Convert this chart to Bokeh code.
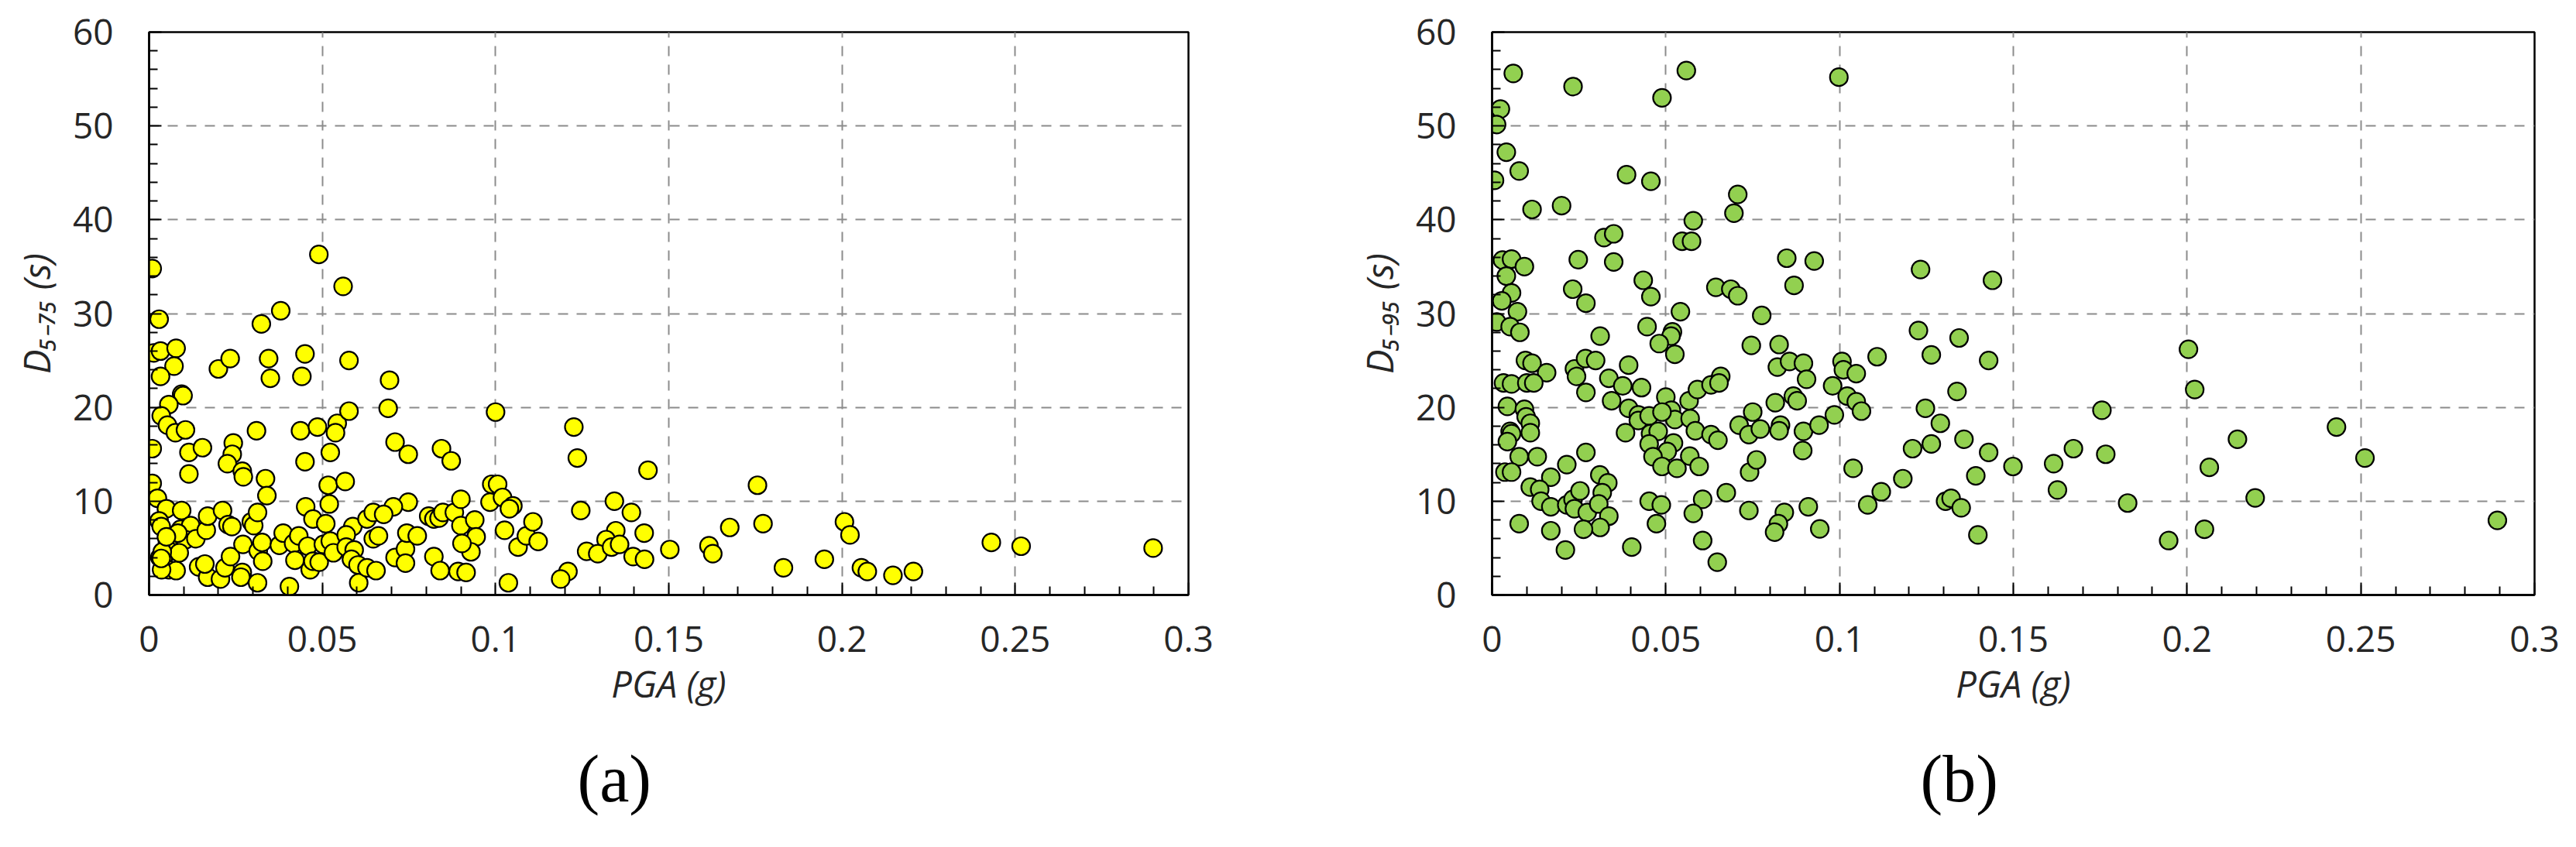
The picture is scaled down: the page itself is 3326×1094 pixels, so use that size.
from bokeh.plotting import figure
from bokeh.layouts import row
from bokeh.models import Range1d, FixedTicker, Title
from bokeh.embed import file_html
from bokeh.resources import INLINE

# ---------------- data ----------------
pga_a = [0.0009, 0.0490, 0.0560, 0.0029, 0.0380, 0.0324, 0.0013, 0.0033, 0.0078, 0.0072,
         0.0033, 0.0200, 0.0234, 0.0345, 0.0350, 0.0450, 0.0441, 0.0577, 0.0694, 0.0690,
         0.1000, 0.0094, 0.0098, 0.0057, 0.0035, 0.0053, 0.0076, 0.0105, 0.0009, 0.0115,
         0.0154, 0.0115, 0.0009, 0.0310, 0.0437, 0.0486, 0.0543, 0.0538, 0.0577, 0.0243,
         0.0240, 0.0226, 0.0269, 0.0272, 0.0336, 0.0340, 0.0523, 0.0450, 0.0710, 0.0748,
         0.0844, 0.0872, 0.0517, 0.0566, 0.0520, 0.0452, 0.0989, 0.1006, 0.0984, 0.1020,
         0.1050, 0.1040, 0.0748, 0.0705, 0.0024, 0.0050, 0.0094, 0.0029, 0.0035, 0.0091,
         0.0120, 0.0105, 0.0135, 0.0165, 0.0169, 0.0212, 0.0228, 0.0239, 0.0053, 0.0057,
         0.0042, 0.0057, 0.0078, 0.0087, 0.0143, 0.0169, 0.0161, 0.0206, 0.0219, 0.0235,
         0.0269, 0.0265, 0.0271, 0.0313, 0.0405, 0.0295, 0.0302, 0.0313, 0.0315, 0.0328,
         0.0326, 0.0376, 0.0387, 0.0417, 0.0432, 0.0421, 0.0458, 0.0465, 0.0473, 0.0491,
         0.0503, 0.0473, 0.0510, 0.0523, 0.0532, 0.0588, 0.0569, 0.0569, 0.0592, 0.0584,
         0.0603, 0.0605, 0.0629, 0.0655, 0.0629, 0.0647, 0.0677, 0.0647, 0.0662, 0.0710,
         0.0740, 0.0740, 0.0744, 0.0774, 0.0807, 0.0822, 0.0837, 0.0848, 0.0881, 0.0900,
         0.0900, 0.0940, 0.0944, 0.0929, 0.0903, 0.0822, 0.0840, 0.0892, 0.0915, 0.1026,
         0.1037, 0.1065, 0.1089, 0.1108, 0.1123, 0.0031, 0.0038, 0.0036, 0.0083, 0.0050,
         0.0035, 0.1226, 0.1236, 0.1440, 0.1246, 0.1343, 0.1392, 0.1347, 0.1429, 0.1319,
         0.1263, 0.1295, 0.1335, 0.1358, 0.1397, 0.1430, 0.1209, 0.1188, 0.1503, 0.1616,
         0.1627, 0.1676, 0.1756, 0.1772, 0.1831, 0.1949, 0.2007, 0.2023, 0.2056, 0.2073,
         0.2147, 0.2206, 0.2431, 0.2517, 0.2898]
d5_75 = [34.8, 36.3, 32.9, 29.4, 30.3, 28.9, 25.8, 26.0, 26.3, 24.4,
         23.3, 24.1, 25.2, 25.2, 23.1, 25.7, 23.3, 25.0, 22.9, 19.9,
         19.5, 21.4, 21.25, 20.3, 19.1, 18.1, 17.3, 17.6, 15.6, 15.2,
         15.7, 12.9, 11.9, 17.5, 17.5, 17.9, 18.3, 17.3, 19.6, 16.2,
         15.0, 14.0, 13.2, 12.6, 12.4, 10.6, 15.2, 14.2, 16.3, 15.0,
         15.6, 14.3, 11.7, 12.1, 9.7, 9.4, 11.8, 11.8, 9.9, 10.4,
         9.5, 9.2, 9.9, 9.4, 10.3, 9.2, 9.0, 7.9, 7.3, 7.0,
         7.4, 5.9, 6.0, 6.9, 8.4, 9.0, 7.5, 7.3, 5.6, 4.7,
         4.1, 2.7, 2.6, 4.5, 3.0, 1.9, 3.3, 1.7, 2.9, 4.1,
         2.4, 1.9, 5.4, 1.3, 0.9, 7.8, 7.4, 8.8, 4.7, 3.6,
         5.6, 5.3, 6.6, 5.5, 6.3, 3.7, 5.2, 2.7, 3.6, 3.5,
         5.4, 8.1, 7.6, 5.75, 4.5, 7.3, 6.4, 5.1, 4.8, 3.8,
         3.2, 1.3, 2.9, 2.6, 8.1, 8.8, 8.6, 6.0, 6.3, 4.0,
         4.9, 3.4, 6.6, 6.3, 8.4, 8.1, 8.2, 8.8, 8.8, 10.2,
         7.4, 8.0, 6.2, 4.6, 5.5, 4.1, 2.6, 2.5, 2.4, 6.9,
         1.3, 5.1, 6.3, 7.8, 5.7, 4.0, 4.6, 2.7, 6.6, 6.2,
         3.9, 17.9, 14.6, 13.3, 9.0, 10.0, 8.8, 6.85, 6.6, 5.9,
         4.65, 4.4, 5.1, 5.4, 4.1, 3.8, 2.5, 1.7, 4.85, 5.25,
         4.4, 7.2, 11.7, 7.6, 2.9, 3.8, 7.8, 6.4, 2.9, 2.5,
         2.1, 2.5, 5.6, 5.2, 5.0]

pga_b = [0.0061, 0.0233, 0.0489, 0.0559, 0.0998, 0.0024, 0.0013, 0.0041, 0.0078, 0.0007,
         0.0387, 0.0457, 0.0707, 0.0696, 0.0115, 0.0200, 0.0579, 0.0322, 0.0350, 0.0547,
         0.0574, 0.0030, 0.0056, 0.0093, 0.0248, 0.0350, 0.0041, 0.0056, 0.0028, 0.0073,
         0.0013, 0.0052, 0.0080, 0.0232, 0.0270, 0.0435, 0.0457, 0.0848, 0.0927, 0.0869,
         0.0644, 0.0687, 0.0707, 0.0542, 0.0776, 0.0446, 0.0311, 0.0519, 0.0515, 0.0481,
         0.0526, 0.0746, 0.0826, 0.0096, 0.0115, 0.0157, 0.0033, 0.0056, 0.0100, 0.0120,
         0.0237, 0.0269, 0.0298, 0.0243, 0.0270, 0.0393, 0.0336, 0.0376, 0.0430, 0.0344,
         0.0393, 0.0421, 0.0421, 0.0452, 0.0500, 0.0516, 0.0526, 0.0570, 0.0567, 0.0591,
         0.0630, 0.0658, 0.0653, 0.0489, 0.0384, 0.0456, 0.0478, 0.0452, 0.0522, 0.0504,
         0.0463, 0.0489, 0.0532, 0.0569, 0.0596, 0.0585, 0.0630, 0.0650, 0.0044, 0.0093,
         0.0098, 0.0110, 0.0110, 0.0052, 0.0056, 0.0044, 0.0078, 0.0130, 0.0037, 0.0056,
         0.0270, 0.0215, 0.0169, 0.0110, 0.0137, 0.0141, 0.0169, 0.0215, 0.0233, 0.0237,
         0.0253, 0.0274, 0.0310, 0.0333, 0.0317, 0.0307, 0.0336, 0.0311, 0.0263, 0.0169,
         0.0078, 0.0211, 0.0402, 0.0452, 0.0487, 0.0473, 0.0606, 0.0579, 0.0606, 0.0648,
         0.0674, 0.0741, 0.0761, 0.0711, 0.0750, 0.0739, 0.0772, 0.0815, 0.0821, 0.0856,
         0.0896, 0.0905, 0.0867, 0.0878, 0.0830, 0.0826, 0.0896, 0.0894, 0.0941, 0.0985,
         0.0980, 0.1007, 0.1011, 0.1048, 0.1022, 0.1048, 0.1063, 0.1039, 0.0739, 0.0841,
         0.0824, 0.0813, 0.0910, 0.0943, 0.1081, 0.1233, 0.1440, 0.1227, 0.1344, 0.1108,
         0.1264, 0.1429, 0.1338, 0.1247, 0.1755, 0.2004, 0.2022, 0.1290, 0.1264, 0.1210,
         0.1358, 0.1429, 0.1182, 0.1120, 0.1392, 0.1499, 0.1616, 0.1673, 0.1766, 0.1627,
         0.1305, 0.1321, 0.1350, 0.1398, 0.1829, 0.1947, 0.2050, 0.2064, 0.2145, 0.2196,
         0.2430, 0.2512, 0.2893]
d5_95 = [55.6, 54.2, 53.0, 55.9, 55.2, 51.8, 50.15, 47.2, 45.2, 44.2,
         44.8, 44.1, 42.7, 40.7, 41.1, 41.5, 39.9, 38.1, 38.5, 37.7,
         37.7, 35.7, 35.8, 35.0, 35.75, 35.5, 34.0, 32.2, 31.35, 30.2,
         29.1, 28.6, 28.0, 32.6, 31.1, 33.55, 31.8, 35.9, 35.6, 33.0,
         32.8, 32.6, 31.9, 30.2, 29.8, 28.6, 27.6, 28.05, 27.6, 26.8,
         25.65, 26.6, 26.7, 25.0, 24.7, 23.7, 22.6, 22.5, 22.6, 22.6,
         24.1, 25.2, 25.0, 23.3, 21.6, 24.5, 23.1, 22.3, 22.1, 20.7,
         19.9, 19.2, 18.6, 19.1, 21.1, 19.7, 18.7, 18.8, 20.7, 21.9,
         22.4, 23.3, 22.6, 19.5, 17.3, 17.2, 17.45, 16.1, 16.2, 15.3,
         14.75, 13.7, 13.5, 14.8, 13.7, 17.5, 17.1, 16.5, 20.1, 19.8,
         19.0, 18.3, 17.3, 17.45, 17.2, 16.35, 14.75, 14.75, 13.1, 13.1,
         15.2, 13.9, 12.55, 11.5, 11.25, 10.0, 9.4, 9.6, 10.2, 9.2,
         11.1, 8.8, 12.8, 11.95, 10.9, 9.7, 8.4, 7.2, 7.0, 6.85,
         7.6, 4.8, 5.1, 10.0, 9.6, 7.6, 10.2, 8.7, 5.8, 3.5,
         10.9, 13.1, 14.4, 18.1, 19.5, 17.1, 17.7, 20.5, 24.3, 24.9,
         24.7, 23.0, 21.2, 20.7, 18.1, 17.5, 17.45, 15.4, 18.1, 19.2,
         22.3, 24.9, 24.0, 23.6, 21.2, 20.6, 19.6, 13.5, 9.0, 8.8,
         7.6, 6.7, 9.4, 7.05, 9.6, 34.7, 33.55, 28.2, 27.4, 25.4,
         25.6, 25.0, 21.7, 19.9, 19.7, 26.2, 21.9, 18.3, 16.1, 15.6,
         16.6, 15.2, 12.4, 11.0, 12.7, 13.7, 14.0, 15.6, 15.0, 11.2,
         10.0, 10.3, 9.3, 6.4, 9.8, 5.8, 7.0, 13.6, 16.6, 10.35,
         17.9, 14.6, 7.96]

x_ticks = [0, 0.05, 0.1, 0.15, 0.2, 0.25, 0.3]
x_tick_labels = ["0", "0.05", "0.1", "0.15", "0.2", "0.25", "0.3"]
y_ticks = [0, 10, 20, 30, 40, 50, 60]
y_tick_labels = ["0", "10", "20", "30", "40", "50", "60"]
y_titles = ["D\u2085\u208b\u2087\u2085 (s)", "D\u2085\u208b\u2089\u2085 (s)"]
x_title = "PGA (g)"
captions = ["(a)", "(b)"]

# ---------------- styling ----------------
H = 1094
SANS = "Open Sans"
TXT = "#262626"


def make_panel(xs, ys, fill, ytitle, caption, width, b_right):
    p = figure(width=width, height=H,
               x_range=Range1d(0, 0.3), y_range=Range1d(0, 60),
               output_backend="svg", toolbar_location=None,
               min_border_left=188, min_border_right=b_right,
               min_border_top=41, min_border_bottom=H - 768)
    p.background_fill_color = "white"
    p.border_fill_color = "white"
    p.outline_line_color = "black"
    p.outline_line_width = 2.5

    minor_x = [i * 0.01 for i in range(31) if i % 5]
    minor_y = [i * 2 for i in range(31) if i % 5]
    p.xaxis.ticker = FixedTicker(ticks=x_ticks, minor_ticks=minor_x)
    p.yaxis.ticker = FixedTicker(ticks=y_ticks, minor_ticks=minor_y)
    p.xaxis.major_label_overrides = dict(zip(x_ticks, x_tick_labels))
    p.yaxis.major_label_overrides = dict(zip(y_ticks, y_tick_labels))

    for ax in (p.xaxis, p.yaxis):
        ax.axis_line_color = "black"
        ax.axis_line_width = 2.5
        ax.major_tick_in = 16
        ax.major_tick_out = 0
        ax.minor_tick_in = 11
        ax.minor_tick_out = 0
        ax.major_tick_line_color = "black"
        ax.minor_tick_line_color = "black"
        ax.major_tick_line_width = 2
        ax.minor_tick_line_width = 2
        ax.major_label_text_font = SANS
        ax.major_label_text_font_size = "46px"
        ax.major_label_text_color = TXT
    p.xaxis.major_label_standoff = 40
    p.yaxis.major_label_standoff = 46

    p.grid.grid_line_color = "#8c8c8c"
    p.grid.grid_line_width = 2
    p.grid.grid_line_dash = "13 11"

    p.scatter(xs, ys, size=23, marker="circle", fill_color=fill,
              line_color="black", line_width=2.2)

    # axis titles and panel caption as side-panel titles
    p.add_layout(Title(text=x_title, align="center", text_font=SANS,
                       text_font_size="47px", text_font_style="italic",
                       text_color=TXT, standoff=8), "below")
    p.add_layout(Title(text=caption, align="left", offset=553,
                       text_font="Liberation Serif", text_font_size="86px",
                       text_font_style="normal", text_color="black",
                       standoff=74), "below")
    p.add_layout(Title(text=ytitle, align="center", text_font=SANS,
                       text_font_size="47px", text_font_style="italic",
                       text_color=TXT, standoff=24), "left")
    return p


p1 = make_panel(pga_a, d5_75, "#FFFF00", y_titles[0], captions[0], 1734, 200)
p2 = make_panel(pga_b, d5_95, "#92D050", y_titles[1], captions[1], 1590, 52)

layout = row(p1, p2)
open("out.html", "w").write(file_html(layout, INLINE))
